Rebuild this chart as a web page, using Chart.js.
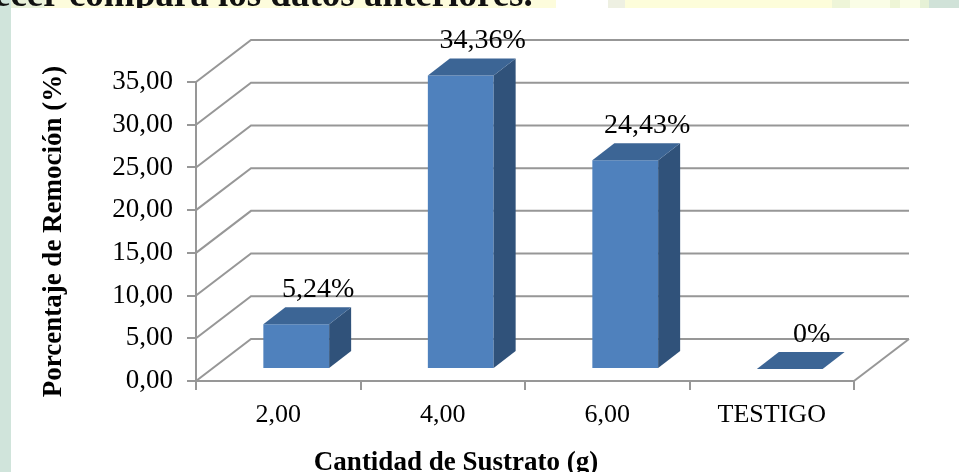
<!DOCTYPE html>
<html>
<head>
<meta charset="utf-8">
<script src="https://cdn.jsdelivr.net/npm/chart.js@4.4.1/dist/chart.umd.min.js"></script>
<style>
  html, body { margin: 0; padding: 0; background: #fff; overflow: hidden; }
  #c { display: block; }
</style>
</head>
<body>
<canvas id="c" width="959" height="472"></canvas>
<script>
// Substrate amount (g) and removal percentage
const categories = ['2,00', '4,00', '6,00', 'TESTIGO'];
const removalPct = [5.24, 34.36, 24.43, 0];
const valueLabels = ['5,24%', '34,36%', '24,43%', '0%'];
const yTickValues = [0, 5, 10, 15, 20, 25, 30, 35];
const xTitle = 'Cantidad de Sustrato (g)';
const yTitle = 'Porcentaje de Remoción (%)';
const headerText = 'ecer compara los datos anteriores.';

// 3D look: wall depth, bar plane offset and bar depth
const WALL = { dx: 55, dy: -42 };
const BAR_SHIFT = { dx: 18, dy: -12 };
const BAR_DEPTH = { dx: 22, dy: -17 };
const GRID = '#979797';
const SERIF = '"Liberation Serif", "Times New Roman", serif';

const fmt = v => v.toFixed(2).replace('.', ',');

const page = {
  id: 'page',
  beforeDraw(chart) {
    const ctx = chart.ctx;
    const W = chart.width, H = chart.height;
    ctx.save();
    ctx.fillStyle = '#ffffff';
    ctx.fillRect(0, 0, W, H);
    // top strip tiles
    const tiles = [
      [0, 11, '#cfe2d9'], [11, 45, '#eaf1d9'], [45, 556, '#fdfcdc'],
      [608, 625, '#eef0e2'], [625, 832, '#fdfdda'], [832, 850, '#eef5d8'],
      [850, 890, '#fafde6'], [890, 900, '#eef5d6'], [900, 920, '#fafde6'],
      [920, 929, '#e6f1d6'], [929, 959, '#d0e2d8']
    ];
    tiles.forEach(([a, b, c]) => { ctx.fillStyle = c; ctx.fillRect(a, 0, b - a, 8); });
    // left strip
    ctx.fillStyle = '#d0e4db';
    ctx.fillRect(0, 0, 11, H);
    // cut-off line of text above the chart
    ctx.fillStyle = '#111';
    ctx.font = 'bold 37px ' + SERIF;
    ctx.textBaseline = 'alphabetic';
    ctx.textAlign = 'left';
    ctx.fillText(headerText, -6, 6);
    // chart sheet
    ctx.fillStyle = '#ffffff';
    ctx.fillRect(11, 8, W - 11, H - 8);
    ctx.restore();
  }
};

const threeD = {
  id: 'threeD',
  beforeDatasetsDraw(chart) {
    const { ctx, chartArea: a, scales: { y } } = chart;
    ctx.save();
    ctx.strokeStyle = GRID;
    ctx.lineWidth = 2;
    const backLeft = a.left + WALL.dx;
    const backRight = a.right + WALL.dx;
    y.ticks.forEach(t => {
      const py = y.getPixelForValue(t.value);
      ctx.beginPath();
      ctx.moveTo(a.left, py);
      ctx.lineTo(backLeft, py + WALL.dy);
      ctx.lineTo(backRight, py + WALL.dy);
      ctx.stroke();
    });
    const p0 = y.getPixelForValue(0);
    ctx.beginPath();
    ctx.moveTo(backRight, p0 + WALL.dy);
    ctx.lineTo(a.right, p0);
    ctx.stroke();
    ctx.restore();
  },
  beforeDatasetDraw(chart) {
    chart.ctx.save();
    chart.ctx.translate(BAR_SHIFT.dx, BAR_SHIFT.dy);
  },
  afterDatasetDraw(chart, args) {
    const ctx = chart.ctx;
    args.meta.data.forEach(el => {
      const x0 = el.x - el.width / 2, x1 = el.x + el.width / 2;
      const yt = el.y, yb = el.base;
      // side face
      if (yb - yt > 0.5) {
        ctx.fillStyle = '#30527a';
        ctx.beginPath();
        ctx.moveTo(x1, yt);
        ctx.lineTo(x1 + BAR_DEPTH.dx, yt + BAR_DEPTH.dy);
        ctx.lineTo(x1 + BAR_DEPTH.dx, yb + BAR_DEPTH.dy);
        ctx.lineTo(x1, yb);
        ctx.closePath();
        ctx.fill();
      }
      // top face
      ctx.fillStyle = '#3c6595';
      ctx.beginPath();
      ctx.moveTo(x0, yt);
      ctx.lineTo(x1, yt);
      ctx.lineTo(x1 + BAR_DEPTH.dx, yt + BAR_DEPTH.dy);
      ctx.lineTo(x0 + BAR_DEPTH.dx, yt + BAR_DEPTH.dy);
      ctx.closePath();
      ctx.fill();
    });
    ctx.restore();
  },
  afterDatasetsDraw(chart) {
    const ctx = chart.ctx;
    const meta = chart.getDatasetMeta(0);
    ctx.save();
    ctx.fillStyle = '#000';
    ctx.font = '28px ' + SERIF;
    ctx.textAlign = 'center';
    ctx.textBaseline = 'alphabetic';
    meta.data.forEach((el, i) => {
      const x = el.x + BAR_SHIFT.dx + BAR_DEPTH.dx;
      const y = el.y + BAR_SHIFT.dy + BAR_DEPTH.dy - 10;
      ctx.fillText(valueLabels[i], x, y);
    });
    // category axis title
    ctx.font = 'bold 27px ' + SERIF;
    ctx.fillText(xTitle, 456, 470);
    ctx.restore();
  }
};

new Chart(document.getElementById('c'), {
  type: 'bar',
  data: {
    labels: categories,
    datasets: [{
      data: removalPct,
      backgroundColor: '#4f81bd',
      borderWidth: 0,
      categoryPercentage: 1,
      barPercentage: 0.4,
      clip: false
    }]
  },
  options: {
    responsive: false,
    animation: false,
    devicePixelRatio: 1,
    layout: { padding: { left: 0, top: 82, right: 105, bottom: 0 } },
    plugins: { legend: { display: false }, tooltip: { enabled: false } },
    scales: {
      x: {
        grid: { drawOnChartArea: false, drawTicks: true, tickLength: 9, color: GRID, lineWidth: 2, offset: true },
        border: { display: true, color: GRID, width: 2 },
        ticks: { color: '#000', font: { family: SERIF, size: 26 }, padding: 10, maxRotation: 0 },
        afterFit(s) { s.height = 91; }
      },
      y: {
        min: 0, max: 35,
        afterBuildTicks(s) { s.ticks = yTickValues.map(v => ({ value: v })); },
        grid: { drawOnChartArea: false, drawTicks: true, tickLength: 9, color: GRID, lineWidth: 2 },
        border: { display: true, color: GRID, width: 2 },
        ticks: { color: '#000', font: { family: SERIF, size: 27 }, padding: 14, callback: v => fmt(v) },
        title: {
          display: true, text: yTitle, color: '#000',
          font: { family: SERIF, size: 27, weight: 'bold', lineHeight: 1.2 },
          padding: { top: 38, bottom: 0 }
        },
        afterFit(s) { s.width = 196; }
      }
    }
  },
  plugins: [page, threeD]
});
</script>
</body>
</html>
